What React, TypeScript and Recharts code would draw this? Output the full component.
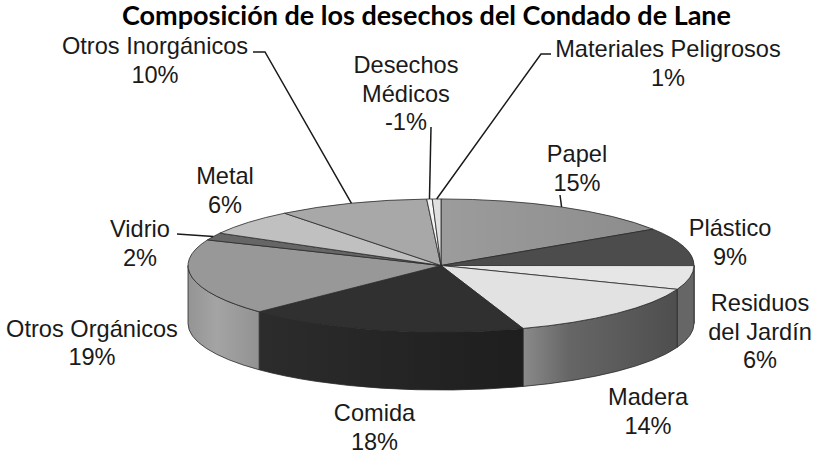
import React from 'react'
import { PieChart, Pie } from 'recharts'

const categories = ['Papel', 'Plástico', 'Residuos del Jardín', 'Madera', 'Comida', 'Otros Orgánicos', 'Vidrio', 'Metal', 'Otros Inorgánicos', 'Desechos Médicos', 'Materiales Peligrosos']
const percentLabels = ['15%', '9%', '6%', '14%', '18%', '19%', '2%', '6%', '10%', '-1%', '1%']
// share of the circle as drawn, the printed labels do not add up to 100
const shares = [15.8, 9.2, 5.8, 13.9, 18, 18.5, 1.8, 6.3, 9.7, 0.35, 0.55]

const data = categories.map((name, i) => ({ name, share: shares[i], percent: percentLabels[i] }))

const WIDTH = 814
const HEIGHT = 454
const CX = 441
const CY = 265.5
const RX = 253
const SQUASH = 0.263
const DEPTH = 58
const FONT = '"Liberation Sans", Arial, sans-serif'

const topColors = ['url(#topPapel)', '#4c4c4c', '#e6e6e6', '#e2e2e2', '#303030', '#989898', '#666666', '#c0c0c0', '#a8a8a8', '#f4f4f4', '#e0e0e0']
const wallColors = ['#888', '#444', '#666666', 'url(#wallMadera)', 'url(#wallComida)', 'url(#wallOrganicos)', '#555', '#999', '#999', '#ccc', '#ccc']

// label text: split lines, centre x, centre y of the first line
const labelLines = [['Papel'], ['Plástico'], ['Residuos', 'del Jardín'], ['Madera'], ['Comida'], ['Otros Orgánicos'], ['Vidrio'], ['Metal'], ['Otros Inorgánicos'], ['Desechos', 'Médicos'], ['Materiales Peligrosos']]
const labelX = [577, 730, 760, 648, 374.5, 92, 140, 225, 155, 406, 668]
const labelY = [154, 228, 303, 397, 413, 328.5, 229, 176, 46, 65, 49]

// leader line bends, from the slice edge outwards
const leaders: Record<number, [number, number][]> = {
  0: [[560, 195]],
  6: [[177, 234]],
  8: [[265, 52], [253, 52]],
  9: [[431, 127]],
  10: [[541, 54], [551, 54]],
}

const toXY = (angle: number, r: number, cx: number, cy: number) => {
  const rad = (angle * Math.PI) / 180
  return [cx + r * Math.cos(rad), cy - r * SQUASH * Math.sin(rad)]
}

function TopSlice(props: any) {
  const { cx, cy, outerRadius: r, startAngle, endAngle, index } = props
  const [x1, y1] = toXY(startAngle, r, cx, cy)
  const [x2, y2] = toXY(endAngle, r, cx, cy)
  const large = startAngle - endAngle > 180 ? 1 : 0
  const d = `M${cx},${cy} L${x1},${y1} A${r},${r * SQUASH} 0 ${large} 1 ${x2},${y2} Z`
  return <path d={d} fill={topColors[index]} stroke="#2a2a2a" strokeWidth={0.8} />
}

function WallSlice(props: any) {
  const { cx, cy, outerRadius: r, startAngle, endAngle, index } = props
  // only the front half of the rim can be seen
  const a1 = Math.min(startAngle, 0)
  const a2 = Math.max(endAngle, -180)
  if (a1 <= a2) return <g />
  const [x1, y1] = toXY(a1, r, cx, cy)
  const [x2, y2] = toXY(a2, r, cx, cy)
  const ry = r * SQUASH
  const d = `M${x1},${y1} A${r},${ry} 0 0 1 ${x2},${y2} L${x2},${y2 + DEPTH} A${r},${ry} 0 0 0 ${x1},${y1 + DEPTH} Z`
  return <path d={d} fill={wallColors[index]} stroke="#2a2a2a" strokeWidth={0.8} />
}

function SliceLabel(props: any) {
  const { cx, cy, outerRadius: r, midAngle, index } = props
  const lines = [...labelLines[index], percentLabels[index]]
  const bends = leaders[index]
  const [ex, ey] = toXY(midAngle, r, cx, cy)
  return (
    <g>
      {bends && (
        <polyline
          points={[[ex, ey], ...bends].map((p) => p.join(',')).join(' ')}
          fill="none"
          stroke="#1a1a1a"
          strokeWidth={1.5}
        />
      )}
      {lines.map((line, i) => (
        <text key={i} x={labelX[index]} y={labelY[index] + 8 + i * 28.5} textAnchor="middle" fontFamily={FONT} fontSize={23.6} fill="#1a1a1a">
          {line}
        </text>
      ))}
    </g>
  )
}

export default function App() {
  return (
    <div style={{ position: 'absolute', left: 0, top: 0, width: WIDTH, height: HEIGHT, background: '#fff' }}>
      <PieChart width={WIDTH} height={HEIGHT} margin={{ top: 0, right: 0, bottom: 0, left: 0 }}>
        <defs>
          <linearGradient id="topPapel" x1="0" y1="0" x2="1" y2="0">
            <stop offset="0" stopColor="#9c9c9c" />
            <stop offset="1" stopColor="#8c8c8c" />
          </linearGradient>
          <linearGradient id="wallMadera" x1="0" y1="0" x2="1" y2="0">
            <stop offset="0" stopColor="#8a8a8a" />
            <stop offset="0.3" stopColor="#666666" />
            <stop offset="1" stopColor="#4e4e4e" />
          </linearGradient>
          <linearGradient id="wallComida" x1="0" y1="0" x2="1" y2="0">
            <stop offset="0" stopColor="#2c2c2c" />
            <stop offset="1" stopColor="#1e1e1e" />
          </linearGradient>
          <linearGradient id="wallOrganicos" x1="0" y1="0" x2="1" y2="0">
            <stop offset="0" stopColor="#949494" />
            <stop offset="0.4" stopColor="#a4a4a4" />
            <stop offset="1" stopColor="#929292" />
          </linearGradient>
        </defs>
        <Pie
          data={data}
          dataKey="share"
          nameKey="name"
          cx={CX}
          cy={CY}
          outerRadius={RX}
          startAngle={90}
          endAngle={-270}
          shape={WallSlice}
          label={false}
          labelLine={false}
          isAnimationActive={false}
        />
        <Pie
          data={data}
          dataKey="share"
          nameKey="name"
          cx={CX}
          cy={CY}
          outerRadius={RX}
          startAngle={90}
          endAngle={-270}
          shape={TopSlice}
          label={SliceLabel}
          labelLine={false}
          isAnimationActive={false}
        />
        <text x={426.5} y={25} textAnchor="middle" fontFamily="Lato, sans-serif" fontWeight={700} fontSize={27} fill="#000">
          Composición de los desechos del Condado de Lane
        </text>
      </PieChart>
    </div>
  )
}
